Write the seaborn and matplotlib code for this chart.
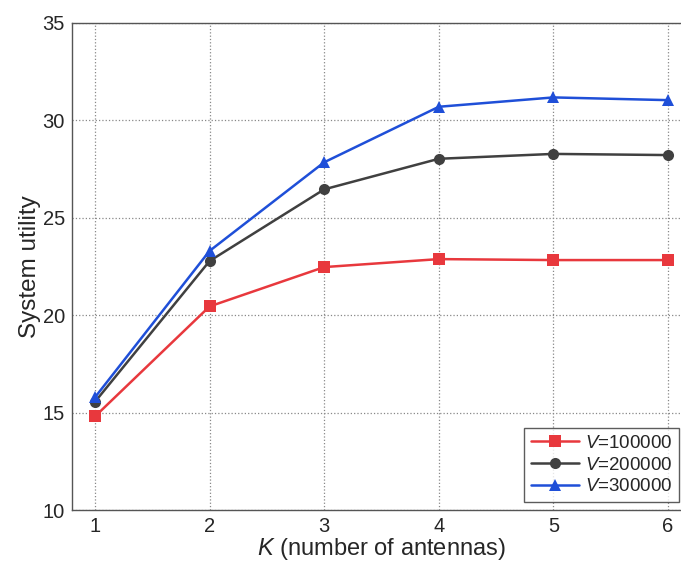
import matplotlib
matplotlib.use("Agg")
import matplotlib.pyplot as plt
import seaborn as sns
import pandas as pd

K = [1, 2, 3, 4, 5, 6]
v100k = [14.8, 20.45, 22.47, 22.88, 22.83, 22.83]
v200k = [15.55, 22.78, 26.46, 28.03, 28.28, 28.22]
v300k = [15.78, 23.3, 27.85, 30.7, 31.18, 31.04]
labels = ["$V$=100000", "$V$=200000", "$V$=300000"]
colors = ["#e8383d", "#404040", "#1f4fd8"]
markers = ["s", "o", "^"]

rows = []
for lab, vals in zip(labels, [v100k, v200k, v300k]):
    for k, v in zip(K, vals):
        rows.append({"K": k, "U": v, "series": lab})
df = pd.DataFrame(rows)

sns.set_style("white")
plt.rcParams["font.family"] = ["Liberation Sans", "DejaVu Sans"]
plt.rcParams["mathtext.fontset"] = "custom"
plt.rcParams["mathtext.it"] = "Liberation Sans:italic"
plt.rcParams["mathtext.rm"] = "Liberation Sans"

fig = plt.figure(figsize=(6.81, 5.63), dpi=100)
left = 72 / 681
right = 691 / 681
bottom, top = 1 - 510 / 563, 1 - 23 / 563
ax = fig.add_axes([left, bottom, right - left, top - bottom])

sns.lineplot(data=df, x="K", y="U", hue="series", style="series",
             palette=dict(zip(labels, colors)), markers=dict(zip(labels, markers)),
             dashes=False, linewidth=1.8, markersize=8, markeredgewidth=0,
             ax=ax)

ax.set_xlim(0.8, 6.2)
ax.set_ylim(10, 35)
ax.set_xticks(K)
ax.set_yticks([10, 15, 20, 25, 30, 35])
ax.grid(True, linestyle=":", color="#888888", linewidth=0.9)
for s in ["top", "bottom", "left", "right"]:
    ax.spines[s].set_color("#555555")
    ax.spines[s].set_linewidth(1.0)
ax.tick_params(axis="both", labelsize=14.5, length=4, direction="in", color="#555555")
ax.tick_params(axis="y", pad=5)
ax.tick_params(axis="x", pad=5)
ax.set_xlabel("$K$ (number of antennas)", fontsize=17, labelpad=0)
ax.set_ylabel("System utility", fontsize=17.5, labelpad=1)

leg = ax.legend(loc="lower right", bbox_to_anchor=(679 / 681, 61 / 563),
                bbox_transform=fig.transFigure,
                fontsize=13.5, frameon=True, fancybox=False,
                borderaxespad=0.0, handlelength=2.6, labelspacing=0.25,
                borderpad=0.35, handletextpad=0.3)
leg.get_frame().set_edgecolor("#333333")
leg.get_frame().set_linewidth(1.0)

fig.savefig("out.png", dpi=100)
